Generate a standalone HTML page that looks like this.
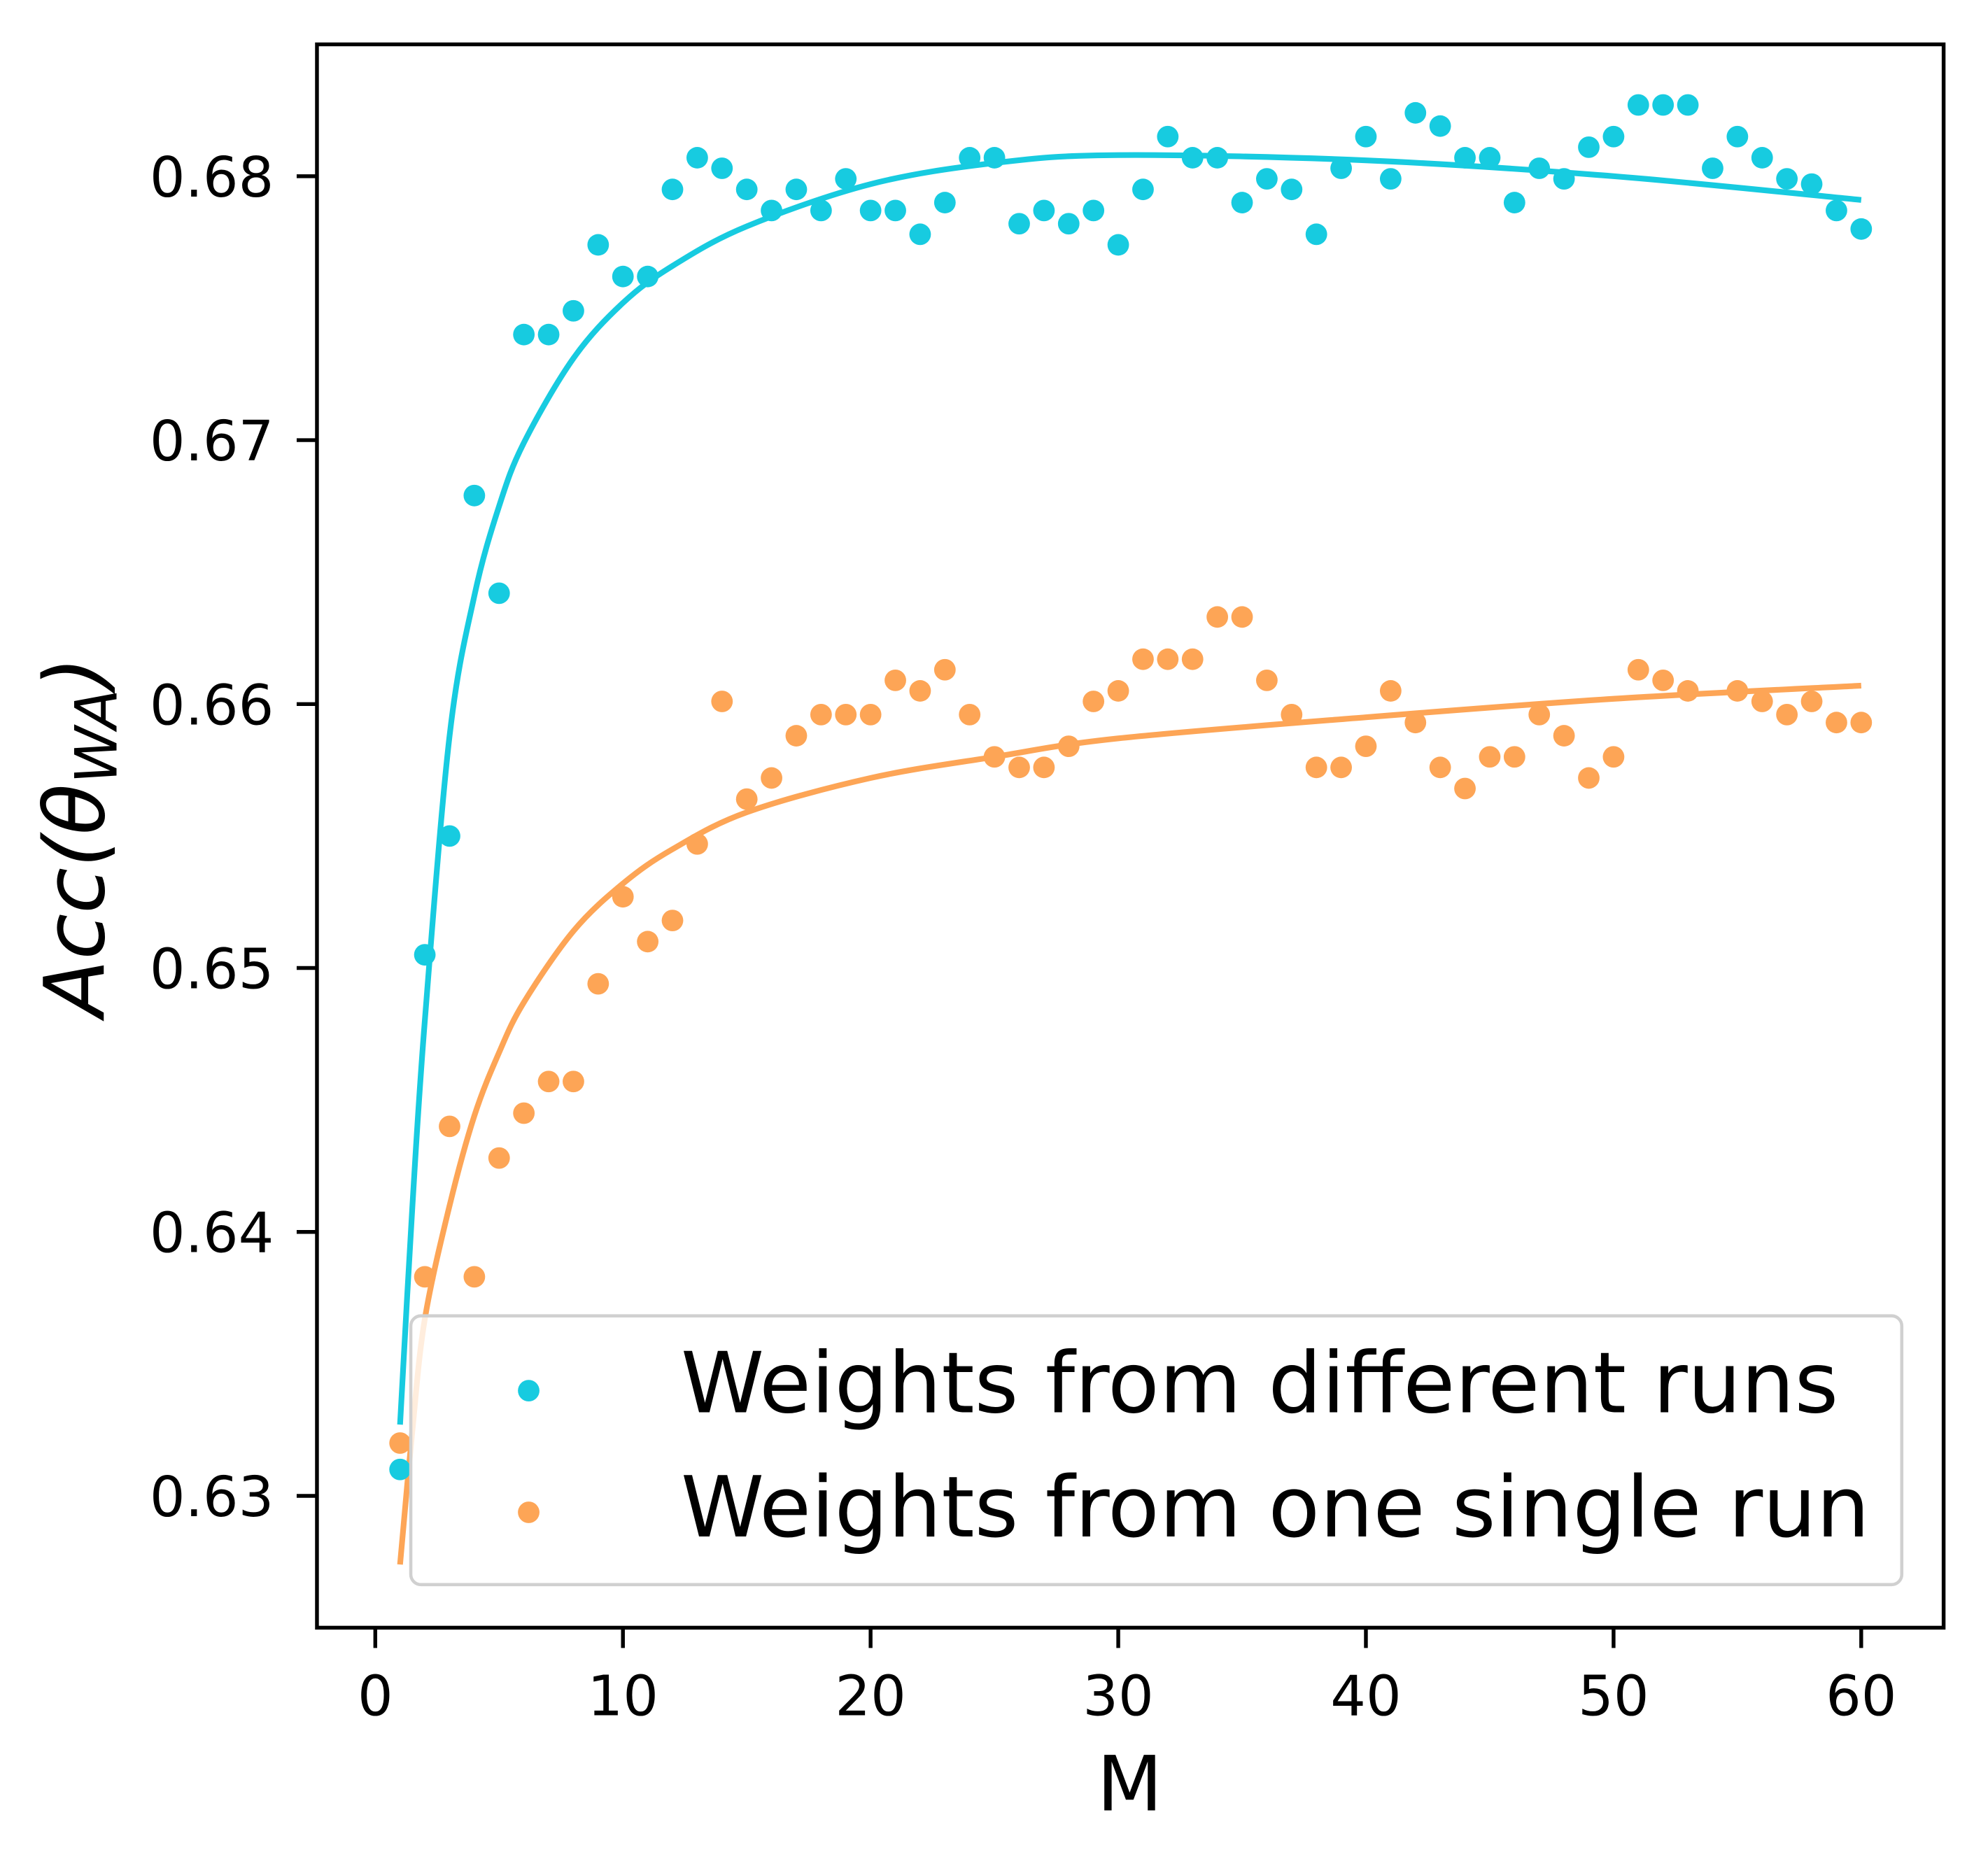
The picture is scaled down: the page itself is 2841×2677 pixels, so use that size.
<!DOCTYPE html>
<html><head><meta charset="utf-8"><style>
html,body{margin:0;padding:0;background:#fff;}
svg{display:block;}
text{font-family:"DejaVu Sans","Liberation Sans",sans-serif;fill:#000;}
</style></head><body>
<svg id="chart" width="2841" height="2677" viewBox="0 0 1568 1477.5" preserveAspectRatio="none" xmlns="http://www.w3.org/2000/svg">
<rect x="0" y="0" width="1568" height="1478" fill="#fff"/>
<g id="marks"></g>
<rect x="250" y="35" width="1283" height="1249" fill="none" stroke="#000" stroke-width="3"/>
<g id="ticks"></g>
<text x="891" y="1428" font-size="60" text-anchor="middle">M</text>
<text transform="translate(82,660) rotate(-90)" font-size="66" text-anchor="middle" font-style="italic">Acc(θ<tspan font-size="46" dy="10">WA</tspan><tspan dy="-10">)</tspan></text>
<g>
<rect x="324" y="1038" width="1176" height="212" rx="8" fill="#fff" fill-opacity="0.8" stroke="#d0d0d0" stroke-width="2.5"/>
<circle cx="417" cy="1097" r="8.5" fill="#17cbe0"/>
<text x="537" y="1114" font-size="66.5">Weights from different runs</text>
<circle cx="417" cy="1193" r="8.5" fill="#fda556"/>
<text x="537" y="1212" font-size="66.5">Weights from one single run</text>
</g>
</svg>
<script>
const xTicks=[0,10,20,30,40,50,60];
const yTicks=[0.63,0.64,0.65,0.66,0.67,0.68];
const yTickLabels=["0.63","0.64","0.65","0.66","0.67","0.68"];
const diffM=[1,2,3,4,5,6,7,8,9,10,11,12,13,14,15,16,17,18,19,20,21,22,23,24,25,26,27,28,29,30,31,32,33,34,35,36,37,38,39,40,41,42,43,44,45,46,47,48,49,50,51,52,53,54,55,56,57,58,59,60];
const diffAcc=[0.631,0.6505,0.655,0.6679,0.6642,0.674,0.674,0.6749,0.6774,0.6762,0.6762,0.6795,0.6807,0.6803,0.6795,0.6787,0.6795,0.6787,0.6799,0.6787,0.6787,0.6778,0.679,0.6807,0.6807,0.6782,0.6787,0.6782,0.6787,0.6774,0.6795,0.6815,0.6807,0.6807,0.679,0.6799,0.6795,0.6778,0.6803,0.6815,0.6799,0.6824,0.6819,0.6807,0.6807,0.679,0.6803,0.6799,0.6811,0.6815,0.6827,0.6827,0.6827,0.6803,0.6815,0.6807,0.6799,0.6797,0.6787,0.678];
const singleM=[1,2,3,4,5,6,7,8,9,10,11,12,13,14,15,16,17,18,19,20,21,22,23,24,25,26,27,28,29,30,31,32,33,34,35,36,37,38,39,40,41,42,43,44,45,46,47,48,49,50,51,52,53,55,56,57,58,59,60];
const singleAcc=[0.632,0.6383,0.644,0.6383,0.6428,0.6445,0.6457,0.6457,0.6494,0.6527,0.651,0.6518,0.6547,0.6601,0.6564,0.6572,0.6588,0.6596,0.6596,0.6596,0.6609,0.6605,0.6613,0.6596,0.658,0.6576,0.6576,0.6584,0.6601,0.6605,0.6617,0.6617,0.6617,0.6633,0.6633,0.6609,0.6596,0.6576,0.6576,0.6584,0.6605,0.6593,0.6576,0.6568,0.658,0.658,0.6596,0.6588,0.6572,0.658,0.6613,0.6609,0.6605,0.6605,0.6601,0.6596,0.6601,0.6593,0.6593];
const fitM=[1,1.5,2,3,4,5,6,8,10,12,15,20,25,30,40,50,60];
const diffFit=[0.6327,0.641,0.648,0.6588,0.6641,0.6675,0.6699,0.6731,0.6752,0.6766,0.6781,0.6797,0.6805,0.6808,0.6806,0.68,0.6791];
const singleFit=[0.6274,0.6325,0.6367,0.641,0.6444,0.6468,0.6487,0.6514,0.6532,0.6545,0.6559,0.6572,0.658,0.6587,0.6595,0.6602,0.6607];
const NS="http://www.w3.org/2000/svg";
function xs(v){return 296+(v-0)*(1468-296)/60;}
function ys(v){return 1180-(v-0.63)*(1180-139)/0.05;}
const marks=document.getElementById('marks');
const ticks=document.getElementById('ticks');
function mk(t,a,p){const e=document.createElementNS(NS,t);for(const k in a)e.setAttribute(k,a[k]);p.appendChild(e);return e;}
function smooth(mArr,vArr){const p=mArr.map((m,i)=>[xs(m),ys(vArr[i])]);let d='M'+p[0][0]+','+p[0][1];for(let i=0;i<p.length-1;i++){const p0=p[Math.max(0,i-1)],p1=p[i],p2=p[i+1],p3=p[Math.min(p.length-1,i+2)];const c1=[p1[0]+(p2[0]-p0[0])/6,p1[1]+(p2[1]-p0[1])/6];const c2=[p2[0]-(p3[0]-p1[0])/6,p2[1]-(p3[1]-p1[1])/6];d+=' C'+c1[0]+','+c1[1]+' '+c2[0]+','+c2[1]+' '+p2[0]+','+p2[1];}return d;}
let l1=mk('path',{d:smooth(fitM,diffFit),fill:'none',stroke:'#17cbe0','stroke-width':4.5},marks);


let l2=mk('path',{d:smooth(fitM,singleFit),fill:'none',stroke:'#fda556','stroke-width':4.5},marks);


diffM.forEach((m,i)=>{const c=mk('circle',{cx:xs(m),cy:ys(diffAcc[i]),r:8.5,fill:'#17cbe0'},marks);

});
singleM.forEach((m,i)=>{const c=mk('circle',{cx:xs(m),cy:ys(singleAcc[i]),r:8.5,fill:'#fda556'},marks);

});
xTicks.forEach(v=>{const x=xs(v);mk('line',{x1:x,x2:x,y1:1284,y2:1300,stroke:'#000','stroke-width':3},ticks);
const t=mk('text',{x:x,y:1353,'font-size':44,'text-anchor':'middle'},ticks);t.textContent=v;

});
yTicks.forEach((v,i)=>{const y=ys(v);mk('line',{x1:234,x2:250,y1:y,y2:y,stroke:'#000','stroke-width':3},ticks);
const t=mk('text',{x:216,y:y+16,'font-size':44,'text-anchor':'end'},ticks);t.textContent=yTickLabels[i];

});
</script>
</body></html>
